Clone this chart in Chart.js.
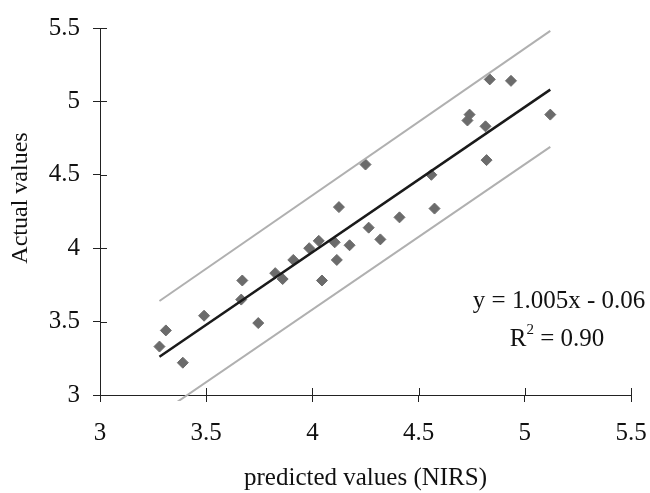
<!DOCTYPE html>
<html lang="en">
<head>
  <meta charset="UTF-8" />
  <title>NIRS calibration</title>
  <script src="https://cdn.jsdelivr.net/npm/chart.js"></script>
  <style>
    body { margin: 0; background: #fff; }
    #wrap { width: 650px; height: 493px; position: relative; }
  </style>
</head>
<body>
  <div id="wrap"><canvas id="myChart"></canvas></div>

  <script>
    // measured points (x = predicted by NIRS, y = actual)
    const predicted = [3.28, 3.31, 3.39, 3.49, 3.665, 3.67, 3.745, 3.825, 3.86, 3.91,
                       3.985, 4.03, 4.045, 4.105, 4.115, 4.125, 4.175, 4.25, 4.265, 4.32,
                       4.41, 4.56, 4.575, 4.73, 4.74, 4.815, 4.82, 4.835, 4.935, 5.12];
    const actual    = [3.33, 3.44, 3.22, 3.54, 3.65, 3.78, 3.49, 3.83, 3.79, 3.92,
                       4.00, 4.05, 3.78, 4.04, 3.92, 4.28, 4.02, 4.57, 4.14, 4.06,
                       4.21, 4.50, 4.27, 4.87, 4.91, 4.83, 4.60, 5.15, 5.14, 4.91];

    // fitted line and the two band lines, read at both ends
    const lineX  = [3.28, 5.12];
    const fitY   = [3.26, 5.08];
    const upperY = [3.64, 5.48];
    const lowerY = [2.87, 4.69];

    const axisTicks = [3, 3.5, 4, 4.5, 5, 5.5];
    const eqText = 'y = 1.005x - 0.06';
    const r2Text = '0.90';

    const serif = '"Liberation Serif", "Times New Roman", serif';
    const ink = '#222';

    const toPts = (xs, ys) => xs.map((x, i) => ({ x: x, y: ys[i] }));

    // inner half of the crossing tick marks, the y title and the equation text
    const extras = {
      id: 'extras',
      afterDraw(chart) {
        const ctx = chart.ctx;
        const xs = chart.scales.x, ys = chart.scales.y;
        ctx.save();
        ctx.strokeStyle = ink;
        ctx.lineWidth = 1;
        ctx.beginPath();
        axisTicks.forEach(v => {
          const px = Math.round(xs.getPixelForValue(v)) + 0.5;
          ctx.moveTo(px, xs.top);
          ctx.lineTo(px, xs.top - 7);
          const py = Math.round(ys.getPixelForValue(v)) + 0.5;
          ctx.moveTo(ys.right, py);
          ctx.lineTo(ys.right + 7, py);
        });
        ctx.stroke();

        ctx.fillStyle = '#111';
        ctx.font = '24px ' + serif;
        ctx.textAlign = 'center';
        ctx.textBaseline = 'middle';
        ctx.translate(21, 198);
        ctx.rotate(-Math.PI / 2);
        ctx.fillText('Actual values', 0, 0);
        ctx.restore();

        ctx.save();
        ctx.fillStyle = '#111';
        ctx.font = '25px ' + serif;
        ctx.textBaseline = 'alphabetic';
        ctx.textAlign = 'center';
        ctx.fillText(eqText, 559, 308);
        const rest = ' = ' + r2Text;
        const wR = ctx.measureText('R').width;
        ctx.font = '15px ' + serif;
        const w2 = ctx.measureText('2').width;
        ctx.font = '25px ' + serif;
        const wRest = ctx.measureText(rest).width;
        let x0 = 557 - (wR + w2 + wRest) / 2;
        ctx.textAlign = 'left';
        ctx.fillText('R', x0, 346);
        ctx.font = '15px ' + serif;
        ctx.fillText('2', x0 + wR, 334);
        ctx.font = '25px ' + serif;
        ctx.fillText(rest, x0 + wR + w2, 346);
        ctx.restore();
      }
    };

    const ctx = document.getElementById('myChart').getContext('2d');
    new Chart(ctx, {
      type: 'scatter',
      data: {
        datasets: [
          {
            label: 'upper',
            data: toPts(lineX, upperY),
            showLine: true,
            borderColor: '#b0b0b0',
            borderWidth: 2,
            pointRadius: 0,
            clip: { left: 0, top: 0, right: 0, bottom: 6 }
          },
          {
            label: 'lower',
            data: toPts(lineX, lowerY),
            showLine: true,
            borderColor: '#b0b0b0',
            borderWidth: 2,
            pointRadius: 0,
            clip: { left: 0, top: 0, right: 0, bottom: 6 }
          },
          {
            label: 'fit',
            data: toPts(lineX, fitY),
            showLine: true,
            borderColor: '#1a1a1a',
            borderWidth: 2.5,
            pointRadius: 0
          },
          {
            label: 'samples',
            data: toPts(predicted, actual),
            pointStyle: 'rectRot',
            pointRadius: 5.5,
            pointBackgroundColor: '#6b6b6b',
            pointBorderColor: '#6b6b6b',
            pointBorderWidth: 1
          }
        ]
      },
      options: {
        responsive: true,
        maintainAspectRatio: false,
        animation: false,
        layout: { padding: { top: 28, right: 19, left: 0, bottom: 0 } },
        plugins: {
          legend: { display: false },
          tooltip: { enabled: false }
        },
        scales: {
          x: {
            type: 'linear',
            min: 3,
            max: 5.5,
            afterFit: s => { s.height = 98; s.paddingLeft = 0; s.paddingRight = 0; },
            afterBuildTicks: s => { s.ticks = axisTicks.map(v => ({ value: v })); },
            border: { color: ink, width: 1 },
            grid: { drawOnChartArea: false, tickLength: 7, color: ink },
            ticks: {
              color: '#111',
              padding: 16,
              maxRotation: 0,
              font: { family: serif, size: 25 },
              callback: v => String(v)
            },
            title: {
              display: true,
              text: 'predicted values (NIRS)',
              color: '#111',
              padding: { top: 0, bottom: 0 },
              font: { family: serif, size: 25 }
            }
          },
          y: {
            type: 'linear',
            min: 3,
            max: 5.5,
            afterFit: s => { s.width = 100; s.paddingTop = 0; s.paddingBottom = 0; },
            afterBuildTicks: s => { s.ticks = axisTicks.map(v => ({ value: v })); },
            border: { color: ink, width: 1 },
            grid: { drawOnChartArea: false, tickLength: 7, color: ink },
            ticks: {
              color: '#111',
              padding: 13,
              font: { family: serif, size: 25 },
              callback: v => String(v)
            }
          }
        }
      },
      plugins: [extras]
    });
  </script>
</body>
</html>
